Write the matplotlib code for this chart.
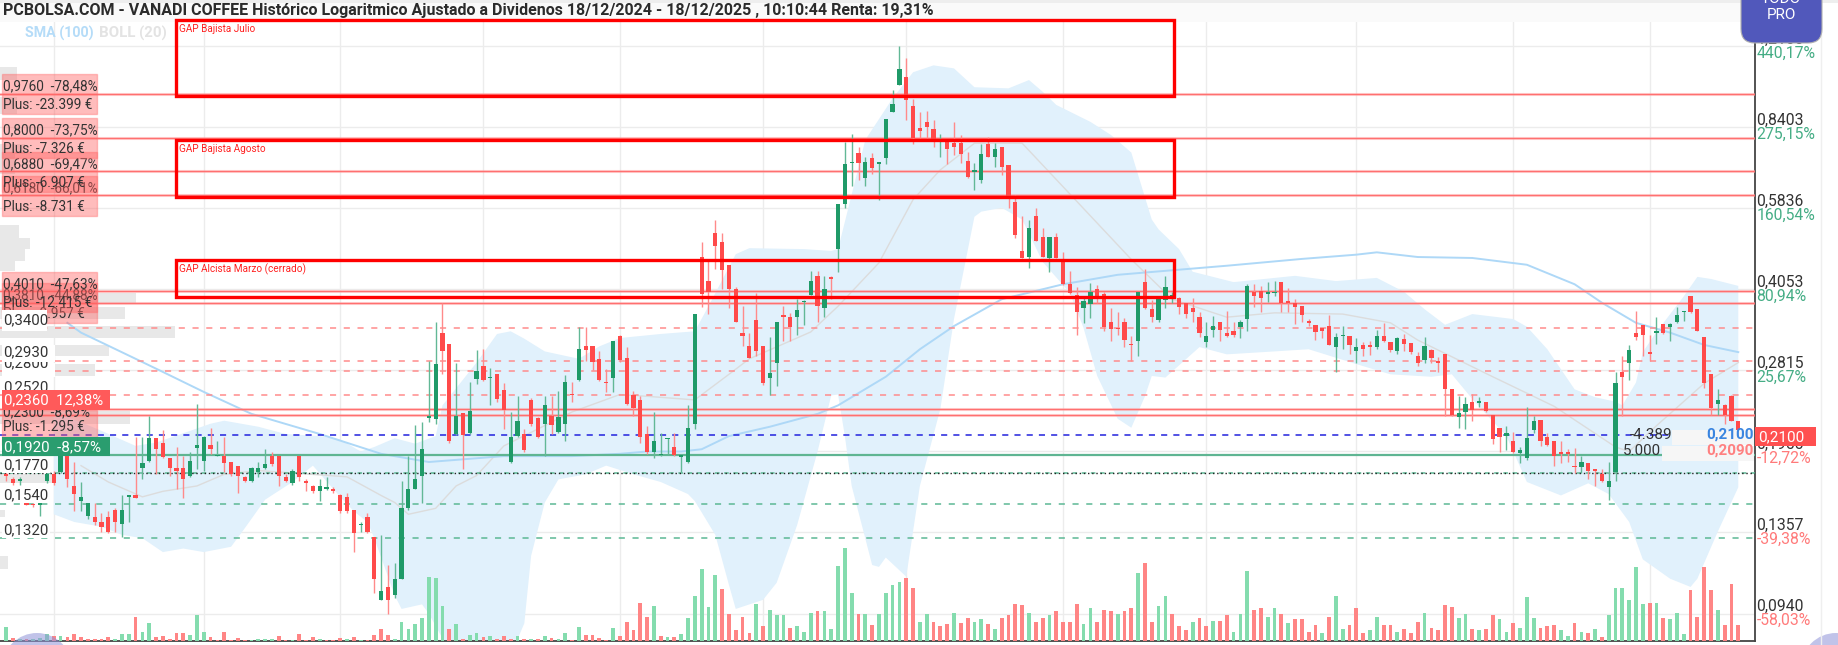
import matplotlib
matplotlib.use("Agg")
import matplotlib.pyplot as plt
from matplotlib.patches import Rectangle, FancyBboxPatch, Circle
import numpy as np

plt.rcParams['font.family'] = ['Roboto', 'DejaVu Sans']

# candles
opens = [
    .176, .172, .171, .155, .154, .153, .171, .176, .178, .191,
    .167, .156, .146, .145, .142, .145, .150, .141, .159, .160,
    .181, .187, .207, .203, .189, .181, .181, .175, .198, .187,
    .201, .191, .191, .186, .183, .174, .171, .178, .181, .191,
    .191, .174, .169, .191, .171, .167, .163, .165, .165, .160,
    .159, .150, .140, .145, .133, .100, .106, .102, .110, .151,
    .165, .175, .227, .226, .332, .317, .211, .232, .212, .270,
    .287, .271, .276, .257, .186, .209, .211, .246, .227, .221,
    .229, .213, .221, .252, .269, .313, .313, .296, .267, .272,
    .328, .297, .252, .246, .211, .195, .192, .206, .199, .190,
    .186, .221, .467, .421, .521, .500, .451, .405, .333, .313,
    .352, .314, .272, .291, .360, .357, .357, .382, .395, .430,
    .372, .428, .485, .594, .714, .747, .669, .731, .712, .731,
    .900, 1.015, 1.052, .924, .836, .860, .832, .790, .786, .782,
    .782, .721, .687, .663, .778, .734, .769, .707, .600, .481,
    .468, .563, .512, .466, .512, .463, .415, .395, .372, .378,
    .405, .396, .349, .340, .349, .317, .321, .418, .370, .352,
    .385, .387, .390, .381, .372, .357, .319, .337, .349, .332,
    .335, .341, .354, .400, .402, .396, .398, .418, .384, .381,
    .375, .351, .344, .340, .343, .312, .328, .328, .306, .315,
    .315, .312, .328, .319, .306, .324, .318, .300, .294, .308,
    .292, .302, .258, .228, .233, .244, .243, .244, .230, .217,
    .209, .204, .194, .189, .215, .225, .208, .204, .194, .194,
    .183, .182, .185, .180, .176, .166, .178, .279, .291, .332,
    .344, .305, .332, .346, .341, .349, .365, .392, .370, .327,
    .276, .241, .240, .250, .224,
]
highs = [
    .178, .174, .174, .155, .155, .155, .178, .179, .193, .193,
    .186, .170, .155, .155, .148, .149, .151, .160, .160, .208,
    .208, .229, .207, .215, .189, .199, .191, .195, .241, .209,
    .217, .204, .208, .186, .183, .175, .182, .186, .197, .195,
    .191, .176, .180, .191, .172, .168, .172, .174, .166, .161,
    .162, .150, .142, .148, .133, .134, .117, .118, .171, .191,
    .220, .223, .293, .349, .380, .317, .290, .232, .267, .308,
    .310, .284, .276, .266, .233, .250, .216, .248, .228, .250,
    .250, .256, .275, .267, .342, .342, .313, .306, .283, .321,
    .329, .312, .256, .250, .219, .233, .212, .207, .212, .193,
    .240, .362, .501, .459, .552, .521, .451, .409, .376, .333,
    .398, .314, .327, .350, .375, .364, .387, .385, .439, .439,
    .430, .429, .594, .785, .814, .767, .734, .747, .716, .872,
    .993, 1.21, 1.148, .955, .900, .905, .867, .816, .786, .860,
    .811, .751, .716, .778, .803, .782, .769, .707, .620, .563,
    .552, .584, .533, .513, .521, .478, .439, .409, .392, .416,
    .413, .400, .372, .365, .356, .328, .400, .443, .385, .388,
    .430, .400, .391, .381, .389, .365, .349, .359, .350, .367,
    .350, .352, .415, .415, .411, .418, .421, .418, .407, .387,
    .375, .354, .344, .340, .360, .332, .343, .328, .325, .319,
    .321, .337, .348, .319, .327, .331, .318, .305, .327, .309,
    .299, .302, .258, .250, .249, .253, .249, .244, .230, .217,
    .219, .213, .199, .238, .229, .225, .212, .204, .204, .197,
    .198, .191, .185, .180, .180, .186, .279, .300, .315, .367,
    .344, .330, .357, .346, .348, .374, .367, .393, .370, .327,
    .276, .258, .241, .252, .224,
]
lows = [
    .171, .168, .168, .153, .152, .146, .169, .168, .177, .166,
    .149, .149, .144, .140, .136, .135, .136, .133, .142, .158,
    .172, .186, .176, .189, .175, .165, .158, .174, .180, .179,
    .193, .191, .178, .175, .162, .170, .170, .174, .180, .183,
    .167, .170, .168, .171, .163, .162, .156, .164, .162, .148,
    .148, .124, .136, .135, .103, .100, .094, .101, .110, .150,
    .165, .155, .223, .221, .276, .203, .210, .180, .211, .264,
    .268, .240, .244, .216, .185, .208, .195, .219, .207, .191,
    .211, .212, .204, .244, .268, .293, .281, .268, .255, .255,
    .292, .240, .229, .203, .193, .189, .191, .193, .191, .178,
    .185, .216, .373, .362, .443, .405, .372, .350, .313, .297,
    .300, .263, .252, .262, .321, .321, .330, .345, .394, .349,
    .358, .387, .438, .584, .644, .663, .645, .680, .606, .712,
    .900, 1.013, .867, .778, .800, .800, .767, .734, .712, .741,
    .714, .669, .634, .654, .734, .701, .678, .584, .510, .465,
    .445, .502, .467, .438, .465, .413, .397, .330, .348, .356,
    .381, .335, .321, .330, .312, .293, .300, .370, .350, .350,
    .372, .380, .362, .356, .350, .327, .312, .327, .321, .327,
    .327, .325, .335, .374, .366, .383, .392, .366, .365, .346,
    .349, .343, .322, .325, .315, .279, .310, .302, .290, .300,
    .301, .309, .319, .305, .303, .306, .303, .286, .291, .290,
    .279, .229, .229, .217, .216, .224, .238, .233, .202, .195,
    .196, .194, .185, .188, .212, .200, .200, .183, .185, .186,
    .177, .177, .172, .167, .170, .157, .171, .229, .269, .322,
    .300, .293, .317, .331, .321, .348, .351, .364, .335, .260,
    .230, .230, .221, .224, .209,
]
closes = [
    .175, .169, .172, .153, .153, .155, .176, .169, .191, .172,
    .161, .159, .155, .142, .139, .136, .142, .150, .160, .158,
    .185, .207, .197, .190, .181, .179, .172, .187, .201, .208,
    .197, .192, .185, .176, .175, .171, .181, .181, .184, .184,
    .175, .171, .179, .174, .169, .163, .167, .166, .163, .149,
    .149, .135, .141, .136, .110, .104, .100, .110, .151, .165,
    .172, .197, .229, .289, .306, .204, .229, .210, .234, .280,
    .269, .273, .247, .235, .208, .224, .196, .221, .208, .240,
    .220, .228, .267, .251, .309, .308, .292, .269, .265, .321,
    .294, .241, .237, .208, .195, .204, .193, .207, .192, .192,
    .217, .362, .396, .400, .491, .441, .405, .350, .328, .297,
    .307, .265, .278, .350, .358, .342, .368, .384, .420, .376,
    .405, .424, .594, .712, .718, .714, .718, .699, .716, .872,
    .930, 1.089, .950, .800, .825, .840, .797, .795, .762, .768,
    .745, .671, .692, .745, .735, .762, .701, .615, .516, .466,
    .533, .502, .468, .512, .466, .414, .398, .365, .384, .400,
    .392, .342, .338, .338, .322, .315, .400, .372, .357, .387,
    .409, .394, .374, .362, .365, .332, .328, .343, .337, .328,
    .330, .349, .410, .392, .390, .400, .400, .381, .381, .373,
    .360, .348, .334, .336, .315, .327, .330, .315, .312, .309,
    .312, .328, .321, .308, .325, .317, .305, .291, .313, .297,
    .291, .258, .230, .232, .241, .235, .244, .234, .206, .208,
    .212, .195, .196, .207, .224, .204, .201, .191, .193, .193,
    .182, .186, .179, .179, .171, .171, .265, .273, .308, .327,
    .330, .302, .335, .332, .346, .360, .367, .365, .336, .265,
    .237, .246, .230, .224, .210,
]
volumes = [
    14, 3, 2, 2, 2, 3, 7, 5, 5, 4,
    7, 4, 2, 2, 2, 4, 2, 7, 7, 24,
    9, 18, 4, 5, 2, 8, 8, 6, 26, 9,
    4, 1, 9, 1, 3, 1, 1, 2, 2, 2,
    5, 1, 1, 7, 1, 4, 2, 1, 1, 3,
    2, 4, 1, 1, 6, 12, 6, 2, 19, 12,
    17, 23, 64, 63, 35, 12, 17, 2, 6, 8,
    4, 5, 2, 5, 2, 5, 2, 2, 2, 5,
    3, 2, 8, 1, 14, 6, 6, 3, 1, 13,
    5, 19, 11, 38, 24, 35, 5, 4, 4, 7,
    23, 45, 72, 34, 66, 52, 27, 11, 24, 8,
    37, 15, 31, 26, 26, 13, 15, 9, 28, 30,
    30, 12, 75, 93, 48, 27, 27, 16, 27, 48,
    56, 59, 63, 53, 19, 27, 19, 15, 17, 28,
    18, 23, 19, 22, 17, 12, 23, 26, 37, 36,
    28, 19, 23, 26, 30, 19, 19, 37, 17, 33,
    19, 31, 30, 27, 30, 33, 68, 78, 19, 35,
    45, 27, 15, 11, 19, 23, 15, 20, 20, 26,
    9, 27, 70, 31, 33, 24, 33, 27, 18, 22,
    22, 9, 16, 8, 24, 45, 12, 16, 33, 8,
    11, 24, 16, 16, 9, 12, 8, 19, 28, 13,
    11, 36, 34, 23, 27, 12, 11, 12, 26, 22,
    9, 18, 13, 44, 23, 13, 15, 16, 11, 5,
    18, 9, 8, 12, 4, 26, 53, 53, 41, 74,
    37, 38, 38, 23, 22, 28, 7, 51, 24, 74,
    51, 31, 16, 57, 16,
]

sma_idx = [9, 11, 19, 23, 29, 36, 46, 55, 62, 73, 83, 90, 94, 99, 102, 106, 112, 119, 122,
           129, 134, 139, 146, 155, 163, 179, 190, 198, 201, 207, 215, 223, 230, 234, 239,
           244, 249, 254]
sma_vals = [.348, .333, .296, .279, .255, .231, .211, .193, .186, .191, .191, .193, .195, .195,
            .197, .209, .218, .231, .240, .273, .309, .343, .387, .414, .432, .450, .464, .473,
            .478, .468, .466, .452, .414, .381, .348, .333, .315, .305]

boll_up_idx = [7, 14, 19, 22, 27, 30, 32, 37, 41, 46, 49, 52, 54, 57, 60, 63, 64, 69, 72, 74,
               76, 79, 84, 87, 90, 96, 101, 103, 107, 109, 117, 121, 122, 126, 130, 133, 136,
               139, 142, 147, 150, 152, 154, 159, 162, 165, 168, 169, 172, 174, 180, 189, 195,
               201, 205, 208, 211, 215, 221, 223, 226, 230, 233, 236, 237, 239, 240, 242, 246,
               248, 250, 254]
boll_up_vals = [.234, .214, .200, .203, .214, .221, .224, .218, .211, .209, .206, .195, .199,
                .207, .202, .209, .240, .291, .331, .335, .324, .306, .296, .313, .325, .331,
                .335, .375, .474, .487, .485, .481, .485, .793, .956, 1.075, 1.109, 1.094,
                1.005, 1.000, 1.038, .985, .928, .860, .811, .749, .554, .530, .485, .438,
                .418, .430, .420, .426, .400, .370, .345, .362, .354, .342, .309, .258, .249,
                .244, .240, .266, .305, .334, .392, .428, .424, .411]
boll_low_idx = [7, 10, 14, 17, 20, 23, 26, 29, 33, 35, 38, 42, 45, 49, 51, 53, 54, 57, 58, 61,
                62, 65, 72, 75, 76, 77, 79, 81, 85, 88, 92, 96, 100, 101, 104, 106, 107, 111,
                113, 116, 119, 121, 122, 123, 124, 127, 128, 129, 132, 134, 137, 139, 142, 143,
                146, 149, 152, 156, 158, 160, 163, 165, 167, 168, 170, 175, 179, 186, 191, 198,
                203, 209, 212, 215, 220, 223, 228, 232, 235, 238, 240, 244, 247, 248, 251, 254]
boll_low_vals = [.147, .142, .139, .134, .132, .124, .126, .124, .127, .138, .157, .170, .183,
                 .159, .149, .142, .132, .102, .096, .098, .094, .0795, .0795, .0837, .090,
                 .122, .155, .172, .176, .183, .176, .170, .161, .156, .134, .107, .096, .100,
                 .108, .140, .195, .251, .252, .209, .167, .117, .116, .121, .111, .167, .236,
                 .354, .561, .574, .584, .554, .458, .398, .340, .274, .226, .217, .250, .274,
                 .272, .312, .302, .306, .309, .289, .276, .273, .276, .247, .209, .170, .160,
                 .169, .161, .142, .120, .110, .106, .110, .136, .166]
boll_mid_idx = [11, 15, 20, 23, 28, 32, 37, 50, 55, 57, 59, 63, 66, 69, 73, 83, 90, 94, 101, 106,
                109, 118, 120, 122, 128, 133, 137, 142, 149, 155, 165, 171, 179, 186, 196, 203,
                207, 218, 227, 236, 238, 242, 249, 254]
boll_mid_vals = [.183, .170, .159, .163, .167, .176, .179, .174, .160, .155, .147, .151, .167,
                 .175, .200, .233, .252, .250, .246, .276, .296, .334, .354, .375, .456, .606,
                 .693, .781, .781, .642, .463, .387, .357, .364, .362, .348, .322, .273, .239,
                 .199, .195, .219, .265, .291]

# volume profile on the left edge
profile_low = [1.04, .89, .745, .68, .51, .485, .46, .44, .378, .354, .325, .30, .274, .221, .169, .145, .115]
profile_high = [1.10, .96, .78, .745, .54, .51, .485, .46, .398, .373, .343, .315, .289, .234, .176, .15, .122]
profile_size = [2.5, 2.5, 3.7, 2.2, 2.8, 4.4, 3.7, 2.2, 20, 18.3, 25.7, 16, 13.9, 19, 8, 0.7, 1.2]

levels_red = [.976, .80, .688, .618, .401, .381, .236, .23]
levels_red_dash = [.34, .293, .28, .252]
levels_green_dash = [.154, .132]
level_blue = .21
level_green = .192
level_dotted = .177

grid_prices = [1.21, .8403, .5836, .4053, .2815, .1955, .1357, .094]
grid_labels = ["1,2100", "0,8403", "0,5836", "0,4053", "0,2815", "0,1955", "0,1357", "0,0940"]
grid_pcts = ["440,17%", "275,15%", "160,54%", "80,94%", "25,67%", "-12,72%", "-39,38%", "-58,03%"]
grid_bars = [7, 29, 49, 70, 90, 111, 132, 155, 176, 198, 221, 241]

GREEN = "#1f9a68"
RED = "#ff4a4a"
W, H = 1838, 645

fig = plt.figure(figsize=(W / 100, H / 100), dpi=100)
fig.patch.set_facecolor("white")

ax = fig.add_axes([0, 4 / H, 1755 / W, 619 / H])
bars = np.arange(len(closes))
op, hi, lo, cl = map(np.array, (opens, highs, lows, closes))

ax.set_yscale("log")
ax.set_xlim(-0.88, 256.45)
ax.set_ylim(.0831, 1.348)
ax.set_xticks([])
ax.set_yticks([])
ax.minorticks_off()
ax.tick_params(which="both", left=False, right=False, labelleft=False)
for s in ["top", "left"]:
    ax.spines[s].set_visible(False)
for s in ["right", "bottom"]:
    ax.spines[s].set_color("#444444")
    ax.spines[s].set_linewidth(1.3)

for p in grid_prices:
    ax.axhline(p, color="#ececec", lw=1, zorder=0)
for b in grid_bars:
    ax.axvline(b, color="#ececec", lw=1, zorder=0)

ax.barh(profile_low, profile_size, height=np.array(profile_high) - np.array(profile_low),
        left=-0.88, align="edge", color="#e8e8e8", zorder=1)

# bollinger area and lines
ax.fill(boll_up_idx + boll_low_idx[::-1], boll_up_vals + boll_low_vals[::-1],
        color="#e1f1fc", lw=0, zorder=1)
ax.plot(boll_mid_idx, boll_mid_vals, color="#dcdcdc", lw=1, zorder=2)
ax.plot(sma_idx, sma_vals, color="#aed8f7", lw=1.4, zorder=2)

for p in levels_red:
    ax.axhline(p, color="#ff9a9a", lw=2.2, alpha=.55, zorder=3)
    ax.axhline(p, color="#ff7070", lw=.8, zorder=3)
for p in levels_red_dash:
    ax.axhline(p, color="#ff8c8c", lw=1.1, dashes=(4, 5), zorder=3)
for p in levels_green_dash:
    ax.axhline(p, color="#5cb894", lw=1.1, dashes=(4, 5), zorder=3)
ax.axhline(level_blue, color="#2222dd", lw=1.1, dashes=(4, 4), zorder=3)
ax.axhline(level_green, color="#5fb592", lw=1.6, zorder=3)
ax.axhline(level_dotted, color="#5cb894", lw=1.1, dashes=(3, 3), zorder=3)
ax.axhline(level_dotted, color="#222222", lw=1, dashes=(1, 2), zorder=3)

up = cl >= op
colors = np.where(up, GREEN, RED)
wick_colors = np.where(up, "#62b896", "#ff8a8a")
ax.vlines(bars, lo, hi, colors=wick_colors, lw=1, zorder=4)
ax.bar(bars, np.maximum(np.abs(cl - op), cl * .006), bottom=np.minimum(op, cl), width=.62,
       color=colors, lw=0, zorder=5)

for p, lab, pct in zip(grid_prices, grid_labels, grid_pcts):
    col = "#45ad85" if not pct.startswith("-") else "#ff7a7a"
    ax.annotate(lab, (1, p), xycoords=ax.get_yaxis_transform(), xytext=(1, 5), textcoords="offset points",
                fontsize=11.3, color="#333333", va="center", annotation_clip=False)
    ax.annotate(pct, (1, p), xycoords=ax.get_yaxis_transform(), xytext=(1, -5), textcoords="offset points",
                fontsize=11.3, color=col, va="center", annotation_clip=False)

# volume on its own scale
ax_vol = fig.add_axes(ax.get_position(), sharex=ax)
ax_vol.patch.set_visible(False)
ax_vol.axis("off")
ax_vol.set_ylim(0, 619)
prev = np.r_[cl[0], cl[:-1]]
ax_vol.bar(bars, volumes, width=.55, color=np.where(cl >= prev, "#84dcae", "#ff8585"), lw=0)

# everything fixed to the page goes on a pixel overlay
ov = fig.add_axes([0, 0, 1, 1], zorder=10)
ov.set_xlim(0, W)
ov.set_ylim(H, 0)
ov.axis("off")
ov.patch.set_visible(False)


def px_text(x, y, s, size=9.8, color="#333333", z=5, **kw):
    ov.text(x, y, s, fontsize=size, color=color, va="center", ha=kw.pop("ha", "left"), zorder=z, **kw)


def px_box(x0, y0, x1, y1, z=4, **kw):
    ov.add_patch(Rectangle((x0, y0), x1 - x0, y1 - y0, zorder=z, **kw))


# top strip
px_box(0, 0, W, 3, color="#eeeeee", lw=0)
px_box(0, 3, 1755, 22, color="#fafafa", lw=0)
px_text(3, 11, "PCBOLSA.COM - VANADI COFFEE Histórico Logaritmico Ajustado a Dividenos 18/12/2024 - 18/12/2025 , 10:10:44 Renta: 19,31%",
        size=11.5, color="#2b2b2b", fontweight="bold")
px_text(25, 33, "SMA (100)", size=10.3, color="#b5dcf8", fontweight="bold")
px_text(99, 33, "BOLL (20)", size=10.8, color="#e3e3e3", fontweight="bold")
ov.plot([1821, 1821], [22, H], color="#efefef", lw=1)

# gap boxes
for y0, y1, lab in [(20, 96, "GAP Bajista Julio"), (140, 197, "GAP Bajista Agosto"), (260, 297, "GAP Alcista Marzo (cerrado)")]:
    px_box(176, y0, 1174, y1, fill=False, ec="#ff0000", lw=2.4)
    px_text(179, y0 + 9, lab, size=7.2, color="#ff2020")

# order labels on the left, the lower box goes under the one above it
order_tags = [(74, "0,9760  -78,48%", "Plus: -23.399 €"), (118, "0,8000  -73,75%", "Plus: -7.326 €"),
              (152, "0,6880  -69,47%", "Plus: -6.907 €"), (176, "0,6180  -66,01%", "Plus: -8.731 €"),
              (272, "0,4010  -47,63%", "Plus: -12.415 €"), (283, "0,3810  -44,88%", "Plus: -9.957 €"),
              (410, "0,2300  -8,69%", "Plus: -1.295 €")]
for n, (y0, price, plus) in enumerate(order_tags):
    z = 30 - 2 * n
    h = 35 if y0 == 410 else 40
    px_box(2, y0, 97, y0 + h, z=z, fc="#ff6060", ec="#ff7070", alpha=.42, lw=1)
    px_text(3, y0 + (2 if y0 == 410 else 12), price, z=z + .5)
    px_text(3, y0 + (17 if y0 == 410 else 31), plus, z=z + .5)

# plain level labels sit on white plates
for y0, y1, x1, y, s, z in [(363, 377, 55, 363, "0,2800", 32), (345, 362, 55, 352, "0,2930", 33),
                            (310, 331, 47, 320, "0,3400", 32), (378, 389, 50, 387, "0,2520", 32),
                            (458, 473, 50, 465, "0,1770", 32), (487, 503, 50, 495, "0,1540", 32),
                            (522, 538, 50, 530, "0,1320", 32)]:
    px_box(2, y0, x1, y1, z=z, color="white", lw=0)
    px_text(3, y, s, size=10.8, z=z + .5)
px_box(2, 390, 110, 410, z=40, color="#ff5a5a", lw=0)
px_text(4, 400, "0,2360  12,38%", size=10.7, color="white", z=41)
px_box(2, 437, 110, 456, z=40, color="#2a9d6f", lw=0)
px_text(4, 447, "0,1920  -8,57%", size=10.9, color="white", z=41)

# current position on the right
px_box(1672, 430, 1754, 445, color="#f6f6f6", lw=0)
px_box(1662, 446, 1754, 461, color="#f6f6f6", lw=0)
px_text(1630, 435, "-4.389", size=11)
px_text(1623, 451, "5.000", size=10.9)
px_text(1706, 435, "0,2100", size=11, color="#3a85e0", fontweight="bold")
px_text(1706, 451, "0,2090", size=11, color="#ff8080", fontweight="bold")
px_box(1755, 427, 1816, 446, color="#ff5050", lw=0, z=6)
px_text(1758, 437, "0,2100", size=11, color="white", z=7)

# badge and corner discs
ov.add_patch(FancyBboxPatch((1741, -30), 81, 73, boxstyle="round,pad=0,rounding_size=14",
                            fc="#5158bb", ec="#b0b0b0", lw=.8, clip_on=True, zorder=50))
px_text(1781, -1, "TODO", size=11, color="white", ha="center", z=51)
px_text(1781, 15, "PRO", size=11, color="white", ha="center", z=51)
ov.add_patch(Circle((37, 668), 35, fc="#8f93d8", alpha=.55, lw=0))
ov.add_patch(Circle((1836, 668), 35, fc="#8f93d8", alpha=.55, lw=0))

fig.savefig("out.png", dpi=100)
